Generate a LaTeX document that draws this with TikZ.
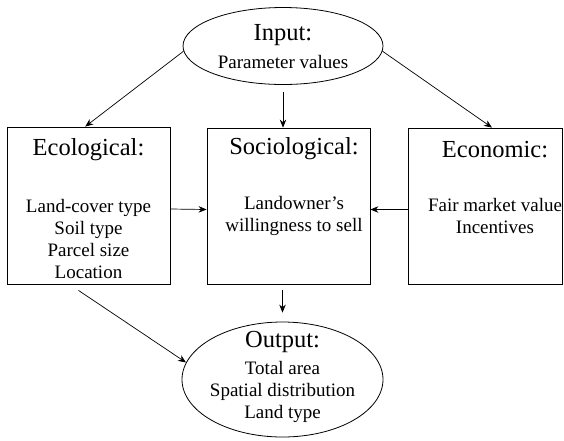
\documentclass[tikz,border=0pt]{standalone}
\usepackage{fontspec}
\setmainfont{Liberation Serif}
\usetikzlibrary{shapes.geometric,arrows.meta,calc}
\begin{document}
\begin{tikzpicture}[x=1pt,y=-1pt,
  box/.style={draw,line width=0.8pt,inner sep=0pt},
  oval/.style={draw,ellipse,line width=0.8pt,inner sep=0pt},
  ttl/.style={font=\fontsize{24.5}{28}\selectfont,inner sep=0pt},
  bdy/.style={font=\fontsize{19}{22}\selectfont,align=center,inner sep=0pt},
  arr/.style={line width=0.7pt,-{Stealth[length=8pt,width=6.5pt]}}]
\useasboundingbox (0,0) rectangle (564,440);
% shapes
\node[oval,minimum width=200pt,minimum height=77pt] (in) at (283,46) {};
\node[box,minimum width=163pt,minimum height=157pt] (eco) at (88.5,205.5) {};
\node[box,minimum width=163pt,minimum height=156pt] (soc) at (288.5,206) {};
\node[box,minimum width=154pt,minimum height=156pt] (econ) at (485,206) {};
\node[oval,minimum width=201pt,minimum height=115pt] (out) at (282.5,379.5) {};
% texts
\node[ttl] (inT) at (283,35) {Input:};
\node[bdy] (inB) at (283,62) {Parameter values};
\node[ttl] (ecoT) at (88.5,150) {Ecological:};
\node[bdy] (ecoB) at (88.5,238.5) {Land-cover type\\Soil type\\Parcel size\\Location};
\node[ttl] (socT) at (294,149) {Sociological:};
\node[bdy] (socB) at (294,216) {Landowner’s\\willingness to sell};
\node[ttl] (econT) at (495,150) {Economic:};
\node[bdy] (econB) at (495,216) {Fair market value\\Incentives};
\node[ttl] (outT) at (282.5,342) {Output:};
\node[bdy] (outB) at (282.5,391.5) {Total area\\Spatial distribution\\Land type};
% connectors
\draw[arr] (in.183) -- ($(eco.north west)!0.48!(eco.north east)$);
\draw[arr] (in.-3) -- ($(econ.north west)!0.545!(econ.north east)$);
\draw[arr] ([yshift=-7pt]in.south) -- (in.south |- soc.north);
\draw[arr] ([yshift=-3.5pt]eco.east) -- ([yshift=-3.5pt]soc.west);
\draw[arr] ([yshift=-3.5pt]econ.west) -- ([yshift=-3.5pt]soc.east);
\draw[arr] ([yshift=-6pt]out.north |- soc.south) -- ([yshift=9pt]out.north);
\draw[arr] ([xshift=-10pt,yshift=-6pt]eco.south) -- (out.170);
\end{tikzpicture}
\end{document}
